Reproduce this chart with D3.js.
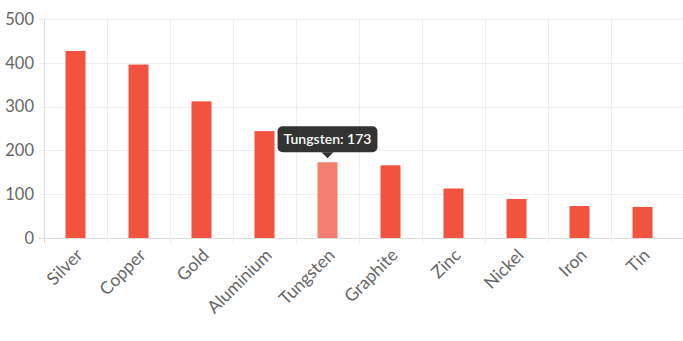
<!DOCTYPE html>
<html><head><meta charset="utf-8">
<script src="https://cdn.jsdelivr.net/npm/d3@7"></script>
<style>
html,body{margin:0;padding:0;background:#fff;}
svg{display:block;font-family:"Source Sans Pro","Lato","Open Sans",sans-serif;}
</style></head>
<body><svg id="c" width="683" height="341"></svg>
<script>
const categories = ["Silver","Copper","Gold","Aluminium","Tungsten","Graphite","Zinc","Nickel","Iron","Tin"];
const values = [427, 396, 312, 244, 173, 166, 113, 89, 73, 71];
const yTicks = [0, 100, 200, 300, 400, 500];
const highlighted = "Tungsten";

(function () {
const svg = d3.select("#c");
const pL = 44, pR = 674, pT = 19, pB = 238;
const x = d3.scaleBand().domain(categories).range([pL, pR]).paddingInner(0).paddingOuter(0);
const y = d3.scaleLinear().domain([0, 500]).range([pB, pT]);

// horizontal grid
svg.append("g").selectAll("line").data(yTicks).join("line")
  .attr("x1", pL - 5).attr("x2", 683)
  .attr("y1", d => Math.round(y(d)) + 0.5).attr("y2", d => Math.round(y(d)) + 0.5)
  .attr("stroke", d => d === 0 ? "#dddddd" : "#eeeeee").attr("stroke-width", 1);

// vertical grid
const bounds = categories.map(c => x(c));
svg.append("g").selectAll("line").data(bounds).join("line")
  .attr("x1", d => Math.round(d) + 0.5).attr("x2", d => Math.round(d) + 0.5)
  .attr("y1", pT).attr("y2", pB + 5)
  .attr("stroke", (d, i) => i === 0 ? "#dddddd" : "#eeeeee").attr("stroke-width", 1);

// y labels
svg.append("g").selectAll("text").data(yTicks).join("text")
  .attr("x", 34).attr("y", d => y(d)).attr("dy", "0.35em")
  .attr("text-anchor", "end").attr("fill", "#666").attr("font-size", 16.5)
  .text(d => d);

// bars
const bw = 20;
svg.append("g").selectAll("rect").data(categories).join("rect")
  .attr("x", d => x(d) + x.bandwidth() / 2 - bw / 2)
  .attr("width", bw)
  .attr("y", (d, i) => y(values[i]))
  .attr("height", (d, i) => y(0) - y(values[i]))
  .attr("fill", d => d === highlighted ? "#f47e6f" : "#f2533e");

// x labels
svg.append("g").selectAll("text").data(categories).join("text")
  .attr("transform", d => `translate(${x(d) + x.bandwidth() / 2 + 4},${pB + 14}) rotate(-45)`)
  .attr("text-anchor", "end").attr("dy", "0.35em")
  .attr("fill", "#666").attr("font-size", 17.5)
  .text(d => d);

// tooltip
const hi = categories.indexOf(highlighted);
const cx = x(highlighted) + x.bandwidth() / 2;
const tipY = y(values[hi]) - 4;
const label = `${highlighted}: ${values[hi]}`;
const tg = svg.append("g");
const txt = tg.append("text").attr("fill", "#fff").attr("font-size", 14).attr("font-weight", 600)
  .attr("text-anchor", "middle").attr("x", cx).attr("y", tipY - 14).text(label);
const bb = txt.node().getBBox();
const w = bb.width + 12, h = 26;
tg.insert("rect", "text").attr("x", cx - w / 2).attr("y", tipY - 6 - h).attr("width", w).attr("height", h)
  .attr("rx", 5).attr("fill", "rgba(0,0,0,0.8)");
tg.insert("path", "text").attr("d", `M${cx - 6},${tipY - 6} L${cx},${tipY} L${cx + 6},${tipY - 6} Z`).attr("fill", "rgba(0,0,0,0.8)");
})();
</script></body></html>
